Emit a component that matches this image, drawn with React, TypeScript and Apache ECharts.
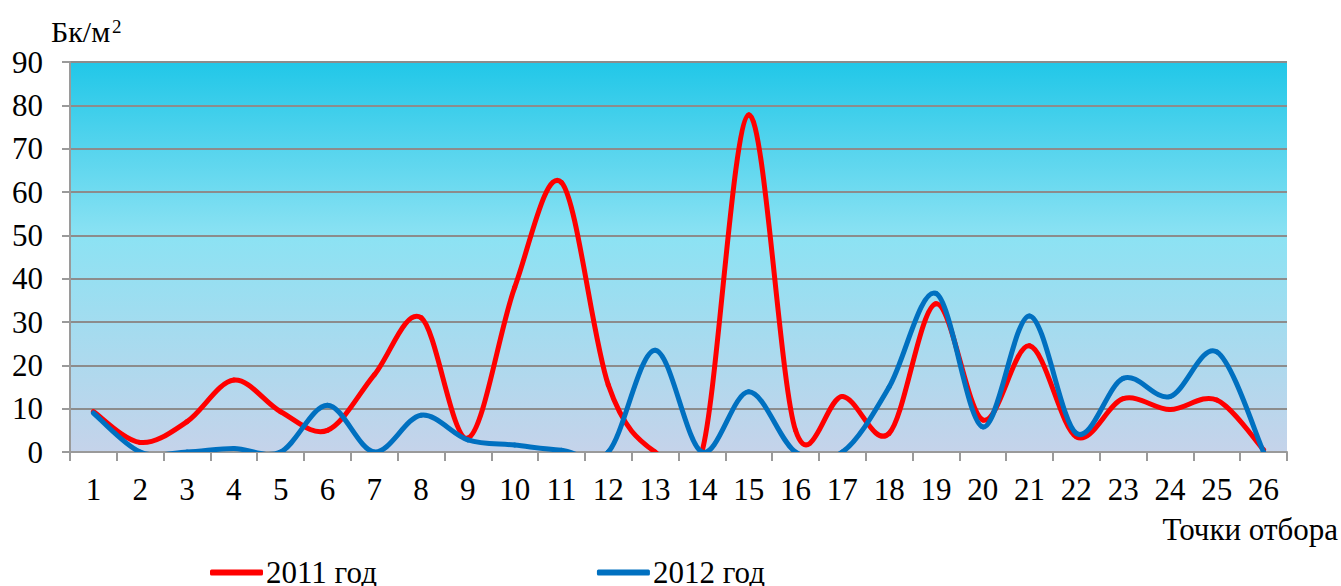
import React, { useEffect, useRef } from "react";
import * as echarts from "echarts";

const categories = ["1","2","3","4","5","6","7","8","9","10","11","12","13","14","15","16","17","18","19","20","21","22","23","24","25","26"];
const data2011 = [9.3, 2.2, 7, 16.6, 9.3, 5, 17.8, 31, 3.2, 38, 62.2, 15.5, 0, 0, 77.8, 5, 12.8, 4.3, 34.2, 7.4, 24.5, 3.5, 12.3, 9.8, 12, 0.5];
const data2012 = [9, 0, 0, 0.8, 0, 10.8, 0, 8.5, 2.8, 1.6, 0.4, 0, 23.5, 0, 13.9, 0, 0, 15, 36.6, 5.8, 31.4, 4.3, 17, 12.8, 23.1, 0];
const yTicks = { min: 0, max: 90, interval: 10 };
const seriesNames = ["2011 год", "2012 год"];
const seriesColors = ["#FF0000", "#0070C0"];

const FONT = "Liberation Serif";

function makeRender(values: number[], color: string) {
  return (params: any, api: any) => {
    const i = params.dataIndex;
    const n = values.length;
    if (i >= n - 1) return { type: "group", children: [] };
    const p = (k: number) => {
      const kc = Math.max(0, Math.min(n - 1, k));
      return api.coord([kc, values[kc]]);
    };
    const p0 = p(i - 1), p1 = p(i), p2 = p(i + 1), p3 = p(i + 2);
    const c1 = [p1[0] + (p2[0] - p0[0]) / 6, p1[1] + (p2[1] - p0[1]) / 6];
    const c2 = [p2[0] - (p3[0] - p1[0]) / 6, p2[1] - (p3[1] - p1[1]) / 6];
    const d = `M${p1[0]} ${p1[1]} C${c1[0]} ${c1[1]} ${c2[0]} ${c2[1]} ${p2[0]} ${p2[1]}`;
    const cs = params.coordSys;
    return {
      type: "path",
      shape: { pathData: d },
      style: { fill: "none", stroke: color, lineWidth: 5, lineCap: "round", lineJoin: "round" },
      clipPath: { type: "rect", shape: { x: cs.x, y: cs.y, width: cs.width, height: cs.height } },
      silent: true,
    };
  };
}

export default function App() {
  const ref = useRef<HTMLDivElement>(null);
  useEffect(() => {
    document.body.style.margin = "0";
    const chart = echarts.init(ref.current!, null, { renderer: "svg" });
    const mk = (vals: number[], idx: number) => ({
      type: "custom",
      name: seriesNames[idx],
      coordinateSystem: "cartesian2d",
      data: vals.map((v, i) => [i, v]),
      encode: { x: 0, y: 1 },
      itemStyle: { color: seriesColors[idx] },
      renderItem: makeRender(vals, seriesColors[idx]),
      clip: true,
      silent: true,
      z: 2 + idx,
    });
    chart.setOption({
      animation: false,
      backgroundColor: "#FFFFFF",
      textStyle: { fontFamily: FONT },
      grid: {
        left: 70,
        right: 54,
        top: 62,
        bottom: 134,
        show: true,
        borderWidth: 0,
        backgroundColor: new echarts.graphic.LinearGradient(0, 0, 0, 1, [
          { offset: 0, color: "#21C7E8" },
          { offset: 0.45, color: "#8CE2F3" },
          { offset: 1, color: "#C5D3EA" },
        ]),
      },
      legend: {
        data: seriesNames,
        left: 210,
        top: 557,
        padding: 0,
        itemWidth: 53,
        itemHeight: 6,
        itemGap: 220,
        icon: "roundRect",
        textStyle: { fontFamily: FONT, fontSize: 31, color: "#000", padding: [0, 0, 0, -2] },
      },
      xAxis: {
        type: "category",
        data: categories,
        boundaryGap: true,
        axisLine: { show: true, lineStyle: { color: "#9A9A9A", width: 2 } },
        axisTick: { show: true, length: 9, interval: 0, lineStyle: { color: "#9A9A9A", width: 2 } },
        axisLabel: { interval: 0, margin: 22, fontFamily: FONT, fontSize: 31, color: "#000" },
        splitLine: { show: false },
      },
      yAxis: {
        type: "value",
        min: yTicks.min,
        max: yTicks.max,
        interval: yTicks.interval,
        axisLine: { show: true, lineStyle: { color: "#9A9A9A", width: 2 } },
        axisTick: { show: true, length: 8, lineStyle: { color: "#9A9A9A", width: 2 } },
        axisLabel: { margin: 27, fontFamily: FONT, fontSize: 31, color: "#000" },
        splitLine: { show: true, lineStyle: { color: "#8C8C8C", width: 2 } },
      },
      graphic: [
        {
          type: "text",
          style: { text: "Бк/м", x: 51, y: 31, textVerticalAlign: "middle", fontFamily: FONT, fontSize: 30, fill: "#000" },
        },
        {
          type: "text",
          style: { text: "2", x: 112, y: 26, textVerticalAlign: "middle", fontFamily: FONT, fontSize: 19, fill: "#000" },
        },
        {
          type: "text",
          style: { text: "Точки отбора", x: 1338, y: 529, textAlign: "right", textVerticalAlign: "middle", fontFamily: FONT, fontSize: 31, fill: "#000" },
        },
      ],
      series: [mk(data2011, 0), mk(data2012, 1)],
    });
    return () => chart.dispose();
  }, []);
  return <div ref={ref} style={{ position: "fixed", left: 0, top: 0, width: 1341, height: 586 }} />;
}
